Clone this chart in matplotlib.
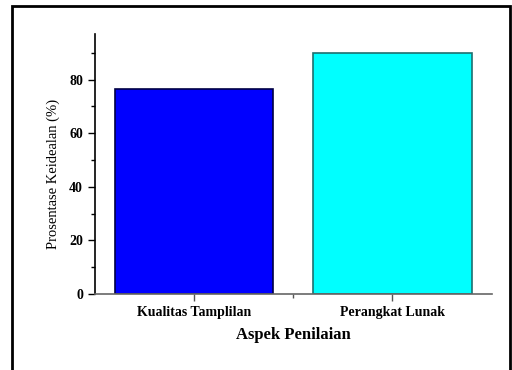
import matplotlib
matplotlib.use("Agg")
import matplotlib.pyplot as plt
from matplotlib.patches import Rectangle
from matplotlib.ticker import MultipleLocator

categories = ["Kualitas Tamplilan", "Perangkat Lunak"]
values = [76.5, 90.0]
colors = ["#0000ff", "#00ffff"]
edges = ["#000044", "#1f6f6f"]

plt.rcParams['font.family'] = ['Liberation Serif', 'DejaVu Serif']

fig = plt.figure(figsize=(5.12, 3.70), dpi=100)
ax = fig.add_axes([0.185, 0.2054, 0.775, 0.7026])

x = [1, 2]
ax.bar(x, values, width=0.8, color=colors, edgecolor=edges, linewidth=1.2)

ax.set_xlim(0.5, 2.5)
ax.set_ylim(0, 97)
ax.set_xticks(x)
ax.set_xticklabels(categories, fontsize=10, fontweight='bold')
ax.xaxis.set_minor_locator(plt.FixedLocator([1.5]))
ax.yaxis.set_major_locator(MultipleLocator(20))
ax.yaxis.set_minor_locator(MultipleLocator(10))
for lab in ax.get_yticklabels():
    lab.set_fontweight('bold')
    lab.set_fontsize(10)

ax.tick_params(axis='both', which='major', direction='out', length=5, width=1)
ax.tick_params(axis='both', which='minor', direction='out', length=3, width=1)
ax.tick_params(axis='x', which='major', colors='#555555', labelcolor='black')
ax.tick_params(axis='x', which='minor', colors='#555555')

ax.spines['top'].set_visible(False)
ax.spines['right'].set_visible(False)
ax.spines['bottom'].set_color('#666666')
ax.spines['bottom'].set_linewidth(1.2)
ax.spines['left'].set_linewidth(1.2)

ax.set_xlabel("Aspek Penilaian", fontsize=12, fontweight='bold', labelpad=6)
ax.set_ylabel("Prosentase Keidealan (%)", fontsize=10.5)
ax.yaxis.set_label_coords(-0.088, 0.463)

# outer frame
fig.add_artist(Rectangle((11.5 / 512, -0.2), 498 / 512, 1.2 - 5.5 / 370,
                         transform=fig.transFigure, fill=False,
                         edgecolor='black', linewidth=2))

fig.savefig("out.png", dpi=100)
